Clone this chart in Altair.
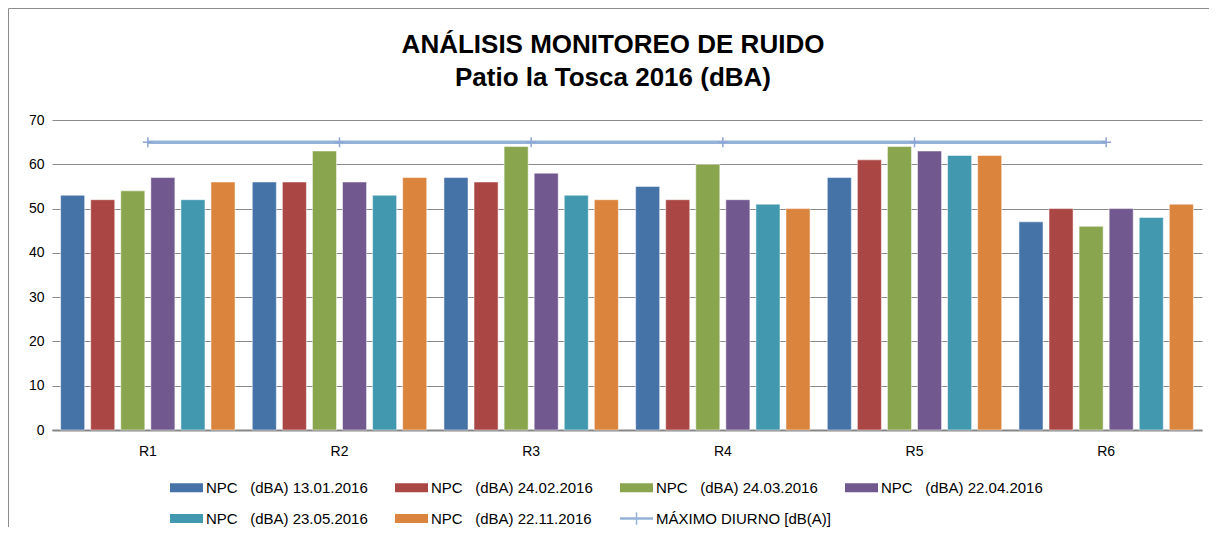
import altair as alt
import pandas as pd

categories = ["R1", "R2", "R3", "R4", "R5", "R6"]
series = [
    "NPC \u00a0 (dBA) 13.01.2016",
    "NPC \u00a0 (dBA) 24.02.2016",
    "NPC \u00a0 (dBA) 24.03.2016",
    "NPC \u00a0 (dBA) 22.04.2016",
    "NPC \u00a0 (dBA) 23.05.2016",
    "NPC \u00a0 (dBA) 22.11.2016",
]
max_label = "MÁXIMO DIURNO [dB(A)]"

v_13_01 = [53, 56, 57, 55, 57, 47]
v_24_02 = [52, 56, 56, 52, 61, 50]
v_24_03 = [54, 63, 64, 60, 64, 46]
v_22_04 = [57, 56, 58, 52, 63, 50]
v_23_05 = [52, 53, 53, 51, 62, 48]
v_22_11 = [56, 57, 52, 50, 62, 51]
maximo_diurno = [65, 65, 65, 65, 65, 65]

colors = ["#4572A7", "#AA4643", "#89A54E", "#71588F", "#4198AF", "#DB843D", "#95B3D7"]

all_vals = [v_13_01, v_24_02, v_24_03, v_22_04, v_23_05, v_22_11]
rows = []
for s, vals in zip(series, all_vals):
    for c, v in zip(categories, vals):
        rows.append({"punto": c, "serie": s, "valor": v})
bars_df = pd.DataFrame(rows)
line_df = pd.DataFrame({"punto": categories, "valor": maximo_diurno})
frame_df = pd.DataFrame({"k": [0]})

rect_path = "M-1.32,-0.36H1.32V0.36H-1.32Z"
cross_path = "M-1.32,-0.1H-0.06V-0.5H0.06V-0.1H1.32V0.1H0.06V0.5H-0.06V0.1H-1.32Z"

x_scale = alt.Scale(domain=categories, paddingInner=0.09, paddingOuter=0.045)
y_scale = alt.Scale(domain=[0, 70])
FONT = "Liberation Sans"

bars = alt.Chart(bars_df).mark_bar(stroke="#ffffff", strokeOpacity=0.5, strokeWidth=1).encode(
    x=alt.X("punto:N", scale=x_scale, sort=categories,
            axis=alt.Axis(title=None, labelAngle=0, ticks=False, domain=True,
                          domainColor="#868686", domainWidth=2, labelPadding=14,
                          labelFontSize=14, labelColor="#000000", labelFont=FONT, grid=False)),
    xOffset=alt.XOffset("serie:N", sort=series + [max_label],
                        scale=alt.Scale(domain=series, paddingInner=0.2, paddingOuter=0)),
    y=alt.Y("valor:Q", scale=y_scale,
            axis=alt.Axis(title=None, values=[0, 10, 20, 30, 40, 50, 60, 70], ticks=False,
                          domain=False, labelPadding=8, labelFontSize=14, labelColor="#000000",
                          labelFont=FONT, grid=True, gridColor="#8a8a8a", gridWidth=1)),
    color=alt.Color("serie:N",
                    scale=alt.Scale(domain=series + [max_label], range=colors),
                    legend=alt.Legend(
                        title=None, orient="none", legendX=122, legendY=355,
                        columns=4, direction="horizontal", padding=0,
                        symbolType=alt.ExprRef(expr="datum.value == '" + max_label + "' ? '" + cross_path + "' : '" + rect_path + "'"),
                        symbolSize=625, symbolStrokeWidth=0, symbolOpacity=1,
                        labelFontSize=15, labelFont=FONT, labelColor="#000000",
                        labelOffset=7, labelLimit=300, columnPadding=13, rowPadding=10,
                        gridAlign="all")),
)

line = alt.Chart(line_df).mark_line(color="#95B3D7", strokeWidth=3.5).encode(
    x=alt.X("punto:N", scale=x_scale, sort=categories),
    y=alt.Y("valor:Q", scale=y_scale),
)
markers = alt.Chart(line_df).mark_point(
    shape="M-1,0L1,0M0,-1L0,1", filled=False, color="#8EA6D6", strokeWidth=1.5, size=100, opacity=1
).encode(
    x=alt.X("punto:N", scale=x_scale, sort=categories),
    y=alt.Y("valor:Q", scale=y_scale),
)

frame_top = alt.Chart(frame_df).mark_rule(color="#8c8c8c", strokeWidth=1).encode(
    x=alt.value(-43.5), x2=alt.value(1300), y=alt.value(-111.5)
)
frame_left = alt.Chart(frame_df).mark_rule(color="#8c8c8c", strokeWidth=1).encode(
    x=alt.value(-43.5), y=alt.value(-111.5), y2=alt.value(700)
)

chart = alt.layer(frame_top, frame_left, bars, line, markers).properties(
    width=1150,
    height=310,
    background="#ffffff",
    padding={"left": 44, "top": 112, "right": 7, "bottom": 97},
    autosize=alt.AutoSizeParams(type="none"),
    title=alt.TitleParams(
        text=["ANÁLISIS MONITOREO DE RUIDO", "Patio la Tosca 2016 (dBA)"],
        font=FONT, fontSize=26, fontWeight="bold", color="#000000",
        anchor="middle", frame="group", dx=-14, offset=-83, lineHeight=33,
    ),
).configure_view(stroke=None)

chart.save("out.html", embed_options={"renderer": "svg", "actions": False})
